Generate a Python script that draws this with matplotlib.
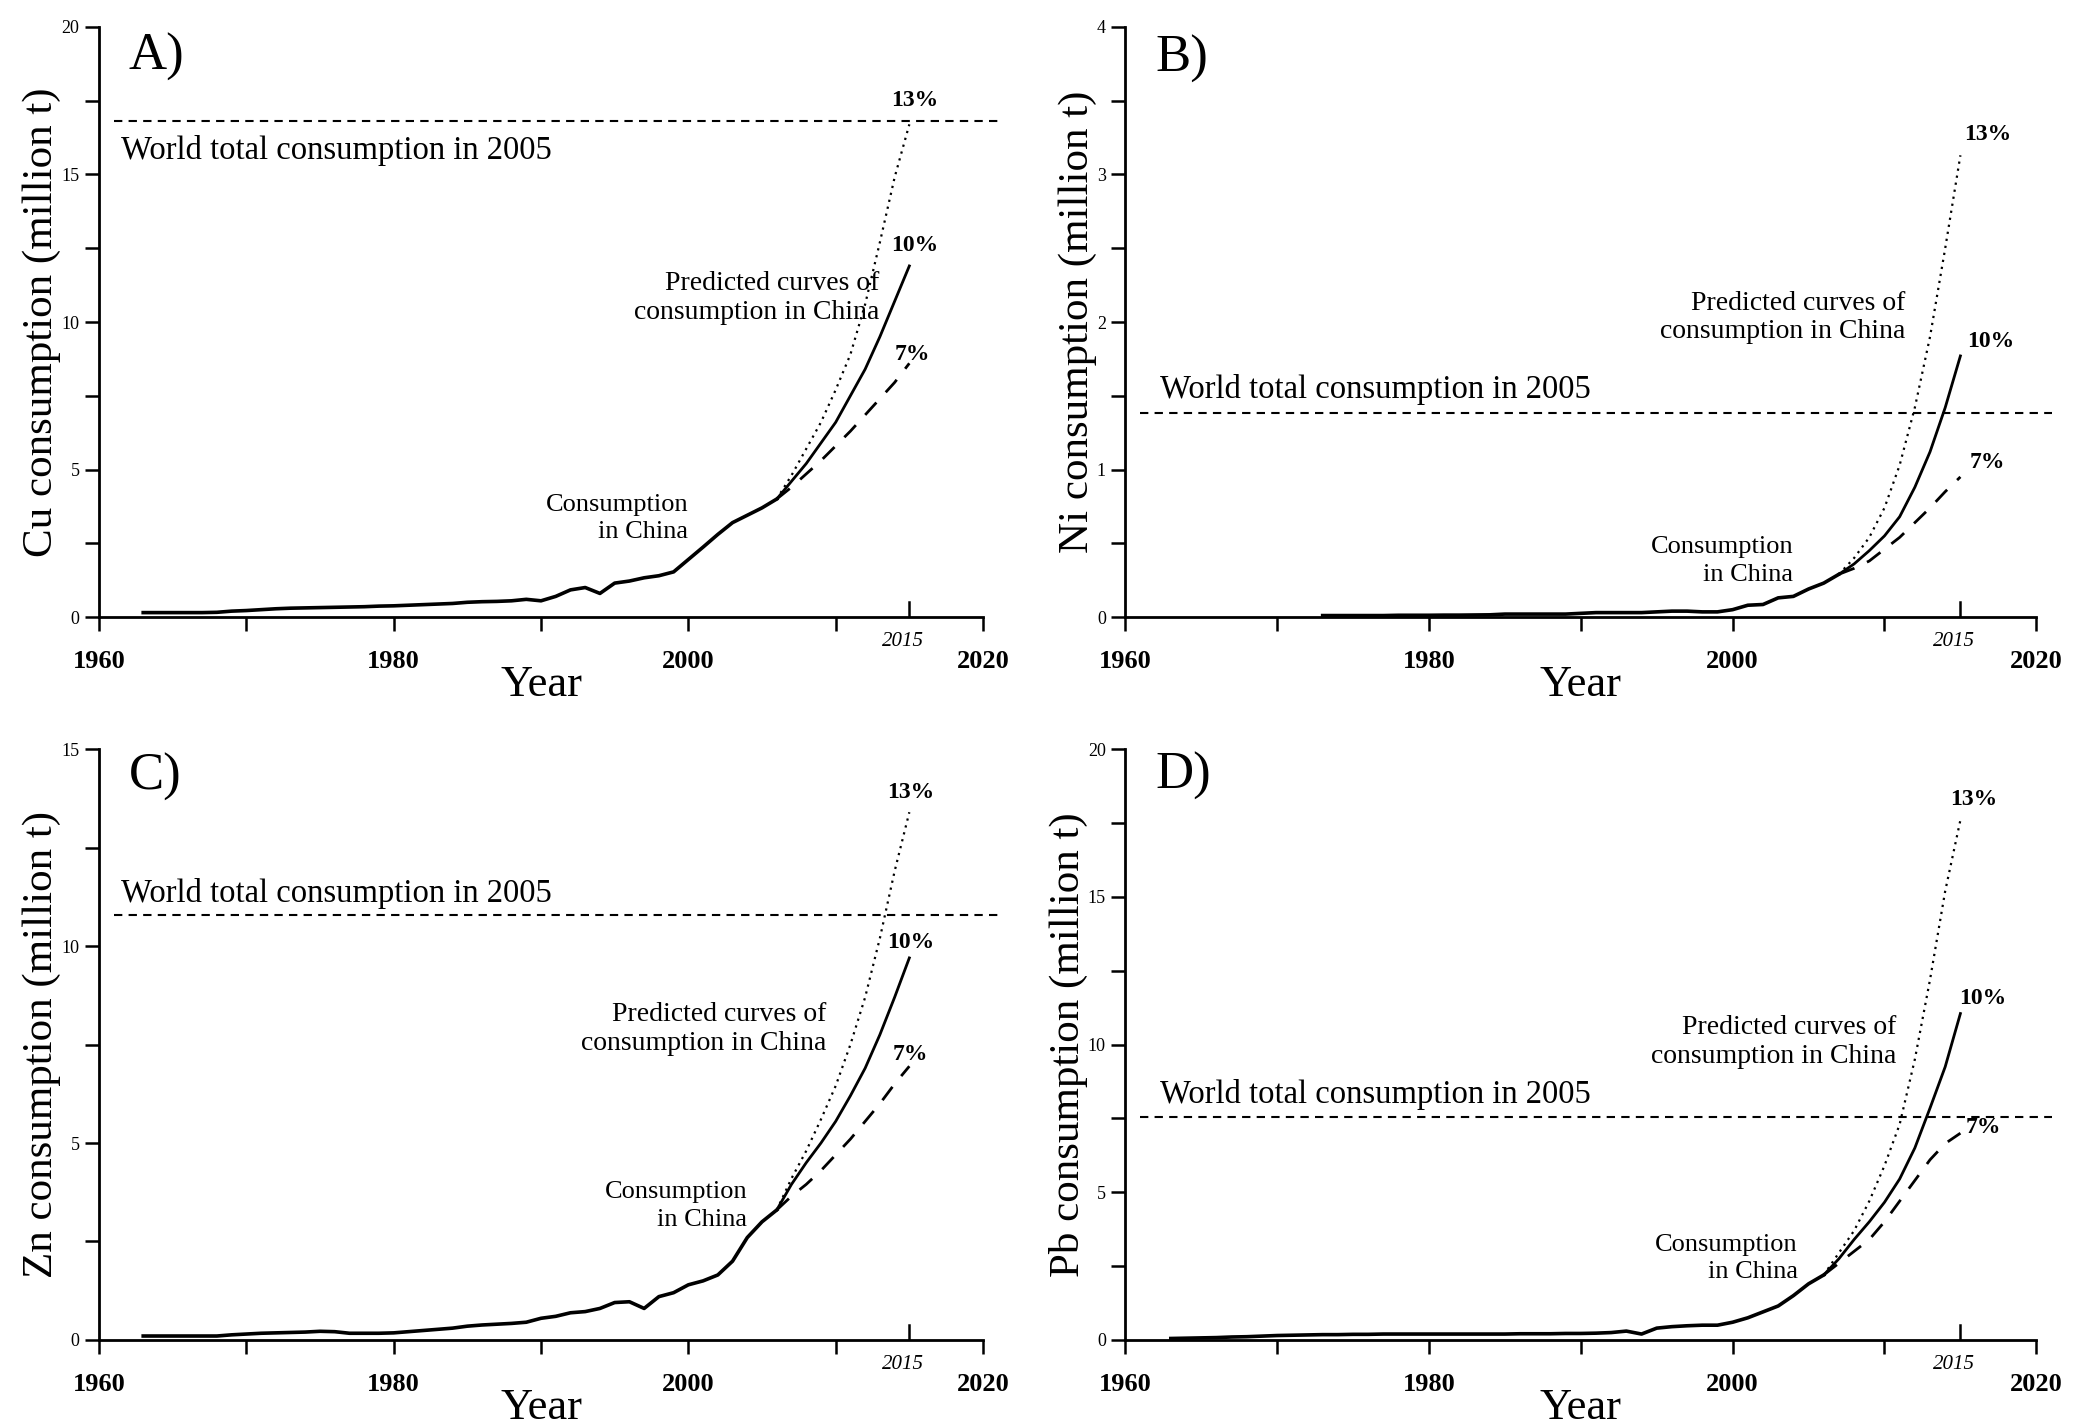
import numpy as np
import matplotlib
matplotlib.use("Agg")
import matplotlib.pyplot as plt
from matplotlib.ticker import MultipleLocator, FixedLocator

plt.rcParams['font.family'] = ['Liberation Serif', 'DejaVu Serif']

# ---- historical consumption in China (million t) ----
cu_years = list(range(1963, 2007))
cu_hist = [0.15, 0.15, 0.15, 0.15, 0.15, 0.16, 0.20, 0.22, 0.25, 0.28,
           0.30, 0.31, 0.32, 0.33, 0.34, 0.35, 0.37, 0.38, 0.40, 0.42,
           0.44, 0.46, 0.50, 0.52, 0.53, 0.55, 0.60, 0.55, 0.70, 0.92,
           1.00, 0.80, 1.15, 1.22, 1.33, 1.40, 1.53, 1.95, 2.37, 2.80,
           3.20, 3.45, 3.70, 4.00]

ni_years = list(range(1973, 2008))
ni_hist = [0.010, 0.010, 0.010, 0.010, 0.010, 0.012, 0.012, 0.012, 0.013, 0.013,
           0.014, 0.015, 0.020, 0.020, 0.020, 0.020, 0.020, 0.025, 0.030, 0.030,
           0.030, 0.030, 0.035, 0.040, 0.040, 0.035, 0.035, 0.050, 0.080, 0.085,
           0.130, 0.140, 0.190, 0.230, 0.290]

zn_years = list(range(1963, 2007))
zn_hist = [0.10, 0.10, 0.10, 0.10, 0.10, 0.10, 0.13, 0.15, 0.17, 0.18,
           0.19, 0.20, 0.22, 0.21, 0.17, 0.17, 0.17, 0.18, 0.21, 0.24,
           0.27, 0.30, 0.35, 0.38, 0.40, 0.42, 0.45, 0.55, 0.60, 0.69,
           0.72, 0.80, 0.95, 0.97, 0.80, 1.10, 1.20, 1.40, 1.50, 1.65,
           2.00, 2.60, 3.00, 3.30]

pb_years = list(range(1963, 2007))
pb_hist = [0.05, 0.06, 0.07, 0.08, 0.10, 0.11, 0.13, 0.15, 0.16, 0.17,
           0.18, 0.18, 0.19, 0.19, 0.20, 0.20, 0.20, 0.20, 0.20, 0.20,
           0.20, 0.20, 0.20, 0.21, 0.21, 0.21, 0.22, 0.22, 0.23, 0.25,
           0.30, 0.20, 0.40, 0.45, 0.48, 0.50, 0.50, 0.60, 0.75, 0.95,
           1.15, 1.50, 1.90, 2.20]

# ---- predicted curves (growth 13 %, 10 %, 7 %) ----
cu_pred_years = list(range(2006, 2016))
cu_13 = [4.0, 4.8, 5.7, 6.6, 7.7, 8.9, 10.6, 12.7, 14.9, 16.7]
cu_10 = [4.0, 4.6, 5.2, 5.9, 6.6, 7.5, 8.4, 9.5, 10.7, 11.9]
cu_7 = [4.0, 4.4, 4.85, 5.3, 5.8, 6.3, 6.85, 7.4, 7.95, 8.6]

ni_pred_years = list(range(2007, 2016))
ni_13 = [0.29, 0.40, 0.54, 0.74, 1.03, 1.42, 1.90, 2.50, 3.13]
ni_10 = [0.29, 0.36, 0.45, 0.55, 0.68, 0.88, 1.12, 1.42, 1.77]
ni_7 = [0.29, 0.33, 0.38, 0.46, 0.54, 0.64, 0.74, 0.85, 0.95]

zn_pred_years = list(range(2006, 2016))
zn_13 = [3.3, 4.1, 4.8, 5.6, 6.45, 7.5, 8.7, 10.2, 11.9, 13.4]
zn_10 = [3.3, 3.95, 4.5, 5.0, 5.55, 6.2, 6.9, 7.75, 8.7, 9.7]
zn_7 = [3.3, 3.65, 3.95, 4.3, 4.7, 5.1, 5.55, 6.0, 6.5, 6.95]

pb_pred_years = list(range(2006, 2016))
pb_13 = [2.2, 2.95, 3.7, 4.7, 5.9, 7.3, 9.5, 12.2, 15.2, 17.6]
pb_10 = [2.2, 2.75, 3.4, 4.0, 4.66, 5.45, 6.5, 7.85, 9.25, 11.05]
pb_7 = [2.2, 2.6, 3.0, 3.4, 4.0, 4.7, 5.4, 6.1, 6.65, 7.0]

# world total consumption in 2005 (million t)
world_2005 = {'Cu': 16.8, 'Ni': 1.38, 'Zn': 10.8, 'Pb': 7.55}

panels = [
    dict(letter='A)', metal='Cu', ymax=20, ystep=5,
         hx=cu_years, hy=cu_hist, px=cu_pred_years, p13=cu_13, p10=cu_10, p7=cu_7,
         letter_y=19.0, world_txt=(1961.5, 16.35, 'top'),
         pred_txt=(2013.0, 10.8), cons_txt=(2000.0, 3.35),
         pct=[(2015.4, 17.5), (2015.4, 12.6), (2015.2, 8.9)]),
    dict(letter='B)', metal='Ni', ymax=4, ystep=1,
         hx=ni_years, hy=ni_hist, px=ni_pred_years, p13=ni_13, p10=ni_10, p7=ni_7,
         letter_y=3.78, world_txt=(1962.3, 1.44, 'bottom'),
         pred_txt=(2011.4, 2.03), cons_txt=(2004.0, 0.38),
         pct=[(2016.8, 3.27), (2017.0, 1.87), (2016.8, 1.05)]),
    dict(letter='C)', metal='Zn', ymax=15, ystep=5,
         hx=zn_years, hy=zn_hist, px=zn_pred_years, p13=zn_13, p10=zn_10, p7=zn_7,
         letter_y=14.3, world_txt=(1961.5, 10.95, 'bottom'),
         pred_txt=(2009.4, 7.9), cons_txt=(2004.0, 3.4),
         pct=[(2015.1, 13.9), (2015.1, 10.1), (2015.1, 7.25)]),
    dict(letter='D)', metal='Pb', ymax=20, ystep=5,
         hx=pb_years, hy=pb_hist, px=pb_pred_years, p13=pb_13, p10=pb_10, p7=pb_7,
         letter_y=19.1, world_txt=(1962.3, 7.8, 'bottom'),
         pred_txt=(2010.8, 10.1), cons_txt=(2004.3, 2.75),
         pct=[(2015.9, 18.3), (2016.5, 11.55), (2016.5, 7.2)]),
]

positions = [
    [0.0476, 0.5676, 0.425, 0.4135],
    [0.541, 0.5676, 0.438, 0.4135],
    [0.0476, 0.061, 0.425, 0.414],
    [0.541, 0.061, 0.438, 0.414],
]

fig = plt.figure(figsize=(20.8, 14.27), dpi=100)

for p, pos in zip(panels, positions):
    ax = fig.add_axes(pos)
    ax.set_xlim(1960, 2020)
    ax.set_ylim(0, p['ymax'])

    # consumption in China
    ax.plot(p['hx'], p['hy'], color='black', lw=2.6, solid_joinstyle='round')
    # predicted curves
    ax.plot(p['px'], p['p13'], color='black', lw=1.6, linestyle=(0, (1, 2.2)))
    ax.plot(p['px'], p['p10'], color='black', lw=2.0)
    ax.plot(p['px'], p['p7'], color='black', lw=2.0, linestyle=(0, (6, 5)))

    # world total consumption in 2005
    ax.plot([1961, 2021], [world_2005[p['metal']]] * 2, color='black',
            lw=1.5, linestyle=(0, (4, 3)), clip_on=False)

    wx, wy, wva = p['world_txt']
    ax.text(wx, wy, 'World total consumption in 2005', fontsize=23.5,
            ha='left', va=wva)
    ax.text(1962.0, p['letter_y'], p['letter'], fontsize=38, ha='left',
            va='center')
    ax.text(p['pred_txt'][0], p['pred_txt'][1],
            'Predicted curves of\nconsumption in China', fontsize=20,
            ha='right', va='center', multialignment='right', linespacing=1.2)
    ax.text(p['cons_txt'][0], p['cons_txt'][1], 'Consumption\nin China',
            fontsize=19, ha='right', va='center', multialignment='right',
            linespacing=1.3)
    for (tx, ty), lab in zip(p['pct'], ['13%', '10%', '7%']):
        ax.text(tx, ty, lab, fontsize=17, ha='center', va='center',
                fontweight='bold')

    # axes styling
    for side in ['top', 'right']:
        ax.spines[side].set_visible(False)
    for side in ['left', 'bottom']:
        ax.spines[side].set_linewidth(2.0)

    ax.xaxis.set_major_locator(FixedLocator([1960, 1980, 2000, 2020]))
    ax.xaxis.set_minor_locator(FixedLocator([1970, 1990, 2010]))
    ax.yaxis.set_major_locator(MultipleLocator(p['ystep']))
    ax.yaxis.set_minor_locator(MultipleLocator(p['ystep'] / 2))
    ax.tick_params(axis='both', which='both', direction='out', length=10,
                   width=1.8)
    ax.tick_params(axis='x', labelsize=19, pad=14)
    ax.tick_params(axis='y', labelsize=13, pad=4)
    for lab in ax.get_xticklabels():
        lab.set_fontweight('bold')
    # 2015 tick points inward
    ax.axvline(2015, ymin=0, ymax=0.025, color='black', lw=1.8)
    ax.text(2014.6, -0.025, '2015', transform=ax.get_xaxis_transform(),
            fontsize=15, style='italic', ha='center', va='top')

    ax.set_xlabel('Year', fontsize=32, labelpad=-6)
    ax.set_ylabel(p['metal'] + ' consumption (million t)', fontsize=31,
                  labelpad=0)

fig.savefig('out.png', dpi=100)
